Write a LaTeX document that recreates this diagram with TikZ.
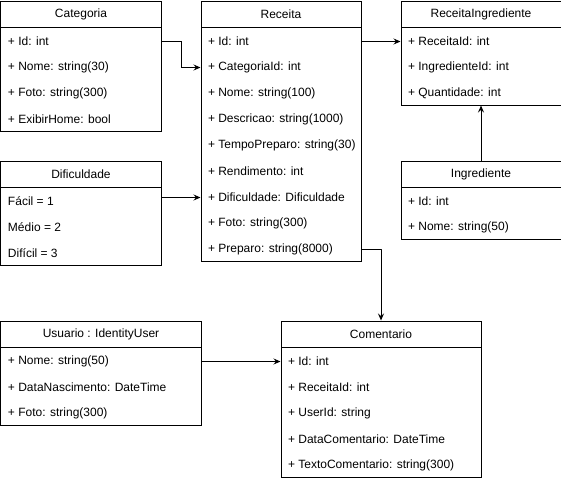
\documentclass[tikz,border=0pt]{standalone}
\usepackage{fontspec}
\setmainfont{Liberation Sans}
\usetikzlibrary{arrows.meta, calc, positioning}

\begin{document}
\begin{tikzpicture}[x=1pt, y=-1pt, line width=1pt,
    font=\fontsize{12}{14}\selectfont,
    head/.style={draw, fill=white, minimum height=26pt, inner sep=0pt, anchor=north west},
    body/.style={draw, fill=white, inner sep=0pt, anchor=north west},
    attr/.style={anchor=west, inner sep=0pt},
    link/.style={-{Stealth[length=7pt, width=6pt, inset=2.5pt]}}]
  \useasboundingbox (-0.5,-0.5) rectangle (560.5,479.5);

  % Categoria
  \node[head, minimum width=160pt] (cat) at (0,0) {Categoria};
  \node[body, minimum width=160pt, minimum height=104pt] (catbody) at (0,26) {};
  \foreach \t [count=\i] in {+ Id: int, + Nome: string(30), + Foto: string(300), + ExibirHome: bool}
    \node[attr] (cat\i) at (7, 15+26*\i) {\t};

  % Receita
  \node[head, minimum width=160pt] (rec) at (200,0) {Receita};
  \node[body, minimum width=160pt, minimum height=234pt] (recbody) at (200,26) {};
  \foreach \t [count=\i] in {+ Id: int, + CategoriaId: int, + Nome: string(100),
      + Descricao: string(1000), + TempoPreparo: string(30), + Rendimento: int,
      + Dificuldade: Dificuldade, + Foto: string(300), + Preparo: string(8000)}
    \node[attr] (rec\i) at (207, 15+26*\i) {\t};

  % ReceitaIngrediente
  \node[head, minimum width=160pt] (ri) at (400,0) {ReceitaIngrediente};
  \node[body, minimum width=160pt, minimum height=78pt] (ribody) at (400,26) {};
  \foreach \t [count=\i] in {+ ReceitaId: int, + IngredienteId: int, + Quantidade: int}
    \node[attr] (ri\i) at (407, 15+26*\i) {\t};

  % Ingrediente
  \node[head, minimum width=160pt] (ing) at (400,160) {Ingrediente};
  \node[body, minimum width=160pt, minimum height=52pt] (ingbody) at (400,186) {};
  \foreach \t [count=\i] in {+ Id: int, + Nome: string(50)}
    \node[attr] (ing\i) at (407, 175+26*\i) {\t};

  % Dificuldade
  \node[head, minimum width=160pt] (dif) at (0,160) {Dificuldade};
  \node[body, minimum width=160pt, minimum height=78pt] (difbody) at (0,186) {};
  \foreach \t [count=\i] in {Fácil = 1, Médio = 2, Difícil = 3}
    \node[attr] (dif\i) at (7, 175+26*\i) {\t};

  % Usuario
  \node[head, minimum width=200pt] (usr) at (0,320) {Usuario : IdentityUser};
  \node[body, minimum width=200pt, minimum height=78pt] (usrbody) at (0,346) {};
  \foreach \t [count=\i] in {+ Nome: string(50), + DataNascimento: DateTime, + Foto: string(300)}
    \node[attr] (usr\i) at (7, 335+26*\i) {\t};

  % Comentario
  \node[head, minimum width=200pt] (com) at (280,320) {Comentario};
  \node[body, minimum width=200pt, minimum height=130pt] (combody) at (280,346) {};
  \foreach \t [count=\i] in {+ Id: int, + ReceitaId: int, + UserId: string,
      + DataComentario: DateTime, + TextoComentario: string(300)}
    \node[attr] (com\i) at (287, 335+26*\i) {\t};

  % relations
  \draw[link] (catbody.east |- cat1) -- ++(20,0) |- (recbody.west |- rec2);
  \draw[link] (recbody.east |- rec1) -- (ribody.west |- ri1);
  \draw[link] (difbody.east |- rec7) -- (recbody.west |- rec7);
  \draw[link] (ing.north) -- (ribody.south);
  \draw[link] (recbody.east |- rec9) -- ++(20,0) -| (com.north);
  \draw[link] (usrbody.east |- com1) -- (combody.west |- com1);
\end{tikzpicture}
\end{document}
